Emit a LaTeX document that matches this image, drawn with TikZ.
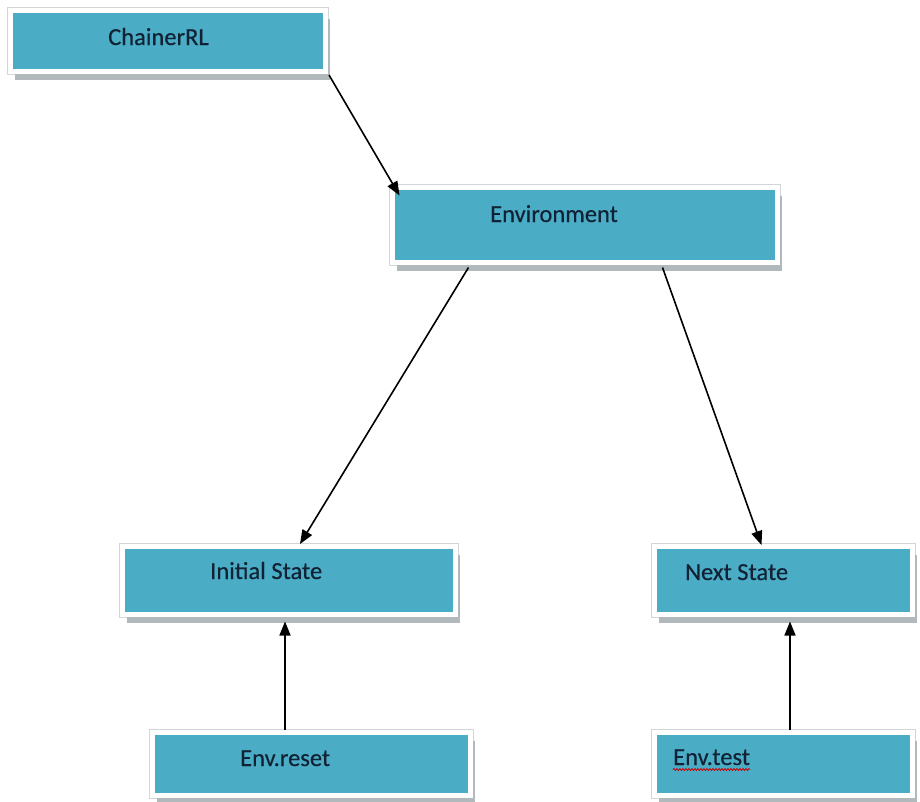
\documentclass[tikz,border=0pt]{standalone}
\usepackage{fontspec}
\setmainfont{Carlito}
\newfontfamily\boxfont{Carlito}[FakeBold=0.35]
\usetikzlibrary{shadows,calc,arrows.meta,decorations.pathmorphing}
\definecolor{boxcyan}{RGB}{75,172,198}
\definecolor{shadowgray}{RGB}{178,185,189}
\definecolor{edgegray}{RGB}{210,214,216}
\definecolor{txtnavy}{RGB}{16,34,52}
\tikzset{
  boxnode/.style={rectangle, inner sep=0pt, fill=boxcyan, draw=white, line width=5pt,
    preaction={draw=edgegray, line width=6.5pt},
    drop shadow={shadow xshift=4pt, shadow yshift=-8pt, fill=shadowgray, opacity=1}},
  boxtext/.style={anchor=base west, inner sep=0pt, text=txtnavy, font=\boxfont\fontsize{24.5}{29}\selectfont},
  conn/.style={draw=black, line width=1.6pt, -{Triangle[length=14pt,width=11pt]}}
}
\begin{document}
\begin{tikzpicture}[x=1pt,y=-1pt]
\fill[white] (0,0) rectangle (920,801);
\useasboundingbox (0,0) rectangle (920,801);

\node[boxnode, minimum width=315pt, minimum height=61pt] (ch) at (168,41) {};
\node[boxnode, minimum width=385pt, minimum height=75pt] (env) at (585,225) {};
\node[boxnode, minimum width=333pt, minimum height=68pt] (init) at (289,580.5) {};
\node[boxnode, minimum width=258pt, minimum height=68pt] (next) at (783.5,580.5) {};
\node[boxnode, minimum width=318pt, minimum height=63pt] (reset) at (311.5,764) {};
\node[boxnode, minimum width=258pt, minimum height=63pt] (test) at (783.5,764) {};

\node[boxtext] (chT) at (108,45) {ChainerRL};
\node[boxtext] (envT) at (490,222) {Environment};
\node[boxtext] (initT) at (210,579) {Initial State};
\node[boxtext] (nextT) at (685,580) {Next State};
\node[boxtext] (resetT) at (240,766) {Env.reset};
\node[boxtext] (testT) at (673,765) {Env.test};

\draw[red!80!black, line width=0.8pt, decorate, decoration={snake, amplitude=1pt, segment length=3pt}]
  ($(testT.base west)+(0,4.5)$) -- ($(testT.base east)+(0,4.5)$);

\draw[conn] ($(ch.south east)+(1,1)$) -- ($(env.north west)+(9.5,10.5)$);
\draw[conn] ($(env.south west)+(78.5,2.5)$) -- ($(init.north)+(11,0)$);
\draw[conn] ($(env.south west)+(272.5,2.5)$) -- ($(next.north)+(-22,1)$);
\draw[conn] ($(reset.north)+(-26.5,0)$) -- ($(init.south)+(-4,4.5)$);
\draw[conn] ($(test.north)+(6.5,0)$) -- ($(next.south)+(6.5,4.5)$);
\end{tikzpicture}
\end{document}
